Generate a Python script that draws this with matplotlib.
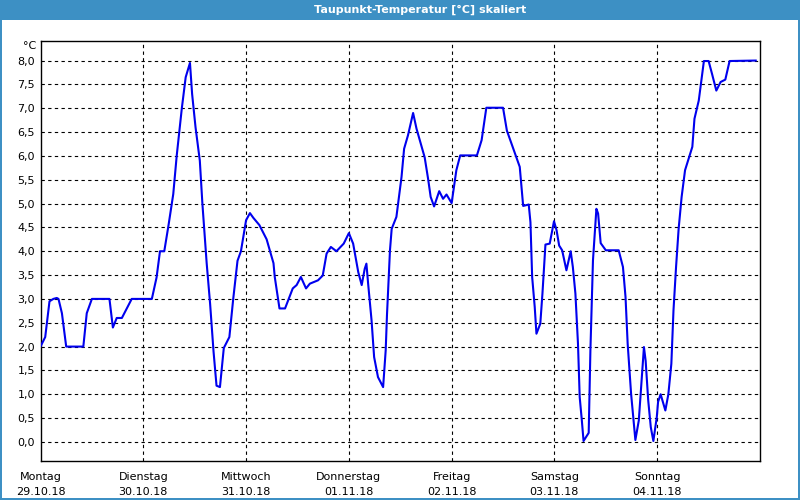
import matplotlib

matplotlib.use("Agg")
import matplotlib.pyplot as plt
from matplotlib.patches import Rectangle

# Hours since Monday 00:00 and dew point in degC
hours = [
    0, 1.1, 2.1, 3.0, 3.8, 4.2, 5.0, 6.0, 10.0, 10.8, 12.0, 16.1, 16.9, 17.8, 19.0,
    21.3, 26.0, 27.1, 27.9, 28.9, 29.9, 31.0, 31.8, 33.0, 33.9, 34.9, 35.4, 36.2,
    37.2, 37.8, 38.8, 39.6, 40.4, 41.1, 41.9, 42.8, 44.1, 45.0, 46.0, 46.8, 48.0,
    48.9, 49.7, 51.1, 52.8, 54.4, 54.7, 55.8, 57.1, 58.9, 59.8, 60.8, 62.0, 62.9,
    64.8, 65.9, 66.8, 67.8, 69.1, 70.8, 72.0, 73.0, 74.2, 75.0, 75.7, 76.1, 76.5,
    77.3, 77.9, 78.8, 80.0, 80.6, 80.9, 81.6, 82.0, 83.1, 83.5, 84.3, 84.9, 85.8,
    87.0, 87.8, 89.7, 90.5, 91.1, 91.9, 93.1, 94.0, 94.8, 96.0, 97.1, 98.0, 101.9,
    103.0, 104.1, 108.0, 108.9, 111.1, 111.9, 112.7, 114.0, 114.4, 114.8, 115.4,
    115.8, 116.7, 117.2, 117.9, 118.9, 119.9, 120.5, 121.1, 121.8, 122.8, 123.8,
    124.3, 124.9, 125.5, 125.9, 126.4, 126.8, 128.0, 128.4, 129.0, 129.8, 130.2,
    130.8, 132.0, 135.0, 136.0, 136.6, 137.1, 137.9, 138.9, 139.7, 140.4, 140.9,
    141.3, 141.9, 142.5, 143.1, 143.9, 144.2, 144.8, 145.9, 146.6, 147.3, 147.8,
    148.4, 149.0, 149.7, 150.5, 151.5, 152.2, 152.7, 153.7, 154.5, 154.9, 156.0,
    156.8, 157.8, 158.8, 159.9, 160.9, 167.0,
]
dewpoint = [
    2.0, 2.2, 2.95, 3.0, 3.02, 3.0, 2.7, 2.0, 2.0, 2.7, 3.0, 3.0, 2.4, 2.6, 2.6,
    3.0, 3.0, 3.45, 4.0, 4.0, 4.55, 5.2, 6.0, 7.0, 7.65, 7.95, 7.3, 6.6,
    5.9, 5.0, 3.75, 2.9, 1.9, 1.18, 1.15, 1.97, 2.2, 3.0, 3.8, 4.0, 4.65,
    4.8, 4.7, 4.55, 4.25, 3.75, 3.46, 2.8, 2.8, 3.22, 3.29, 3.46, 3.22, 3.32,
    3.39, 3.49, 3.95, 4.09, 4.0, 4.16, 4.38, 4.16, 3.56, 3.29, 3.63, 3.74, 3.32,
    2.55, 1.78, 1.36, 1.15, 1.92, 2.66, 4.02, 4.47, 4.72, 5.0, 5.56, 6.15, 6.43,
    6.9, 6.57, 5.97, 5.52, 5.14, 4.94, 5.26, 5.1, 5.19, 5.01, 5.7, 6.01, 6.01,
    6.33, 7.01, 7.01, 6.53, 5.97, 5.77, 4.95, 4.98, 4.61, 3.46, 2.83,
    2.27, 2.48, 3.11, 4.14, 4.16, 4.63, 4.44, 4.12, 4.02, 3.6, 4.0,
    3.67, 3.11, 2.06, 0.94, 0.45, 0.02, 0.19, 1.92, 3.81, 4.89, 4.79,
    4.17, 4.02, 4.02, 3.67, 3.04, 2.06, 1.01, 0.04, 0.45, 1.36, 1.99,
    1.7, 0.87, 0.31, 0.02, 0.52, 0.84, 1.0, 0.66, 1.0, 1.64, 2.76,
    3.67, 4.47, 5.14, 5.7, 5.99, 6.19, 6.78, 7.16, 7.72, 7.99, 7.99,
    7.72, 7.37, 7.55, 7.6, 7.99, 8.0,
]

day_names = ["Montag", "Dienstag", "Mittwoch", "Donnerstag", "Freitag", "Samstag", "Sonntag"]
day_dates = ["29.10.18", "30.10.18", "31.10.18", "01.11.18", "02.11.18", "03.11.18", "04.11.18"]
y_ticks = [i * 0.5 for i in range(17)]

FRAME_BLUE = "#3d90c4"

fig = plt.figure(figsize=(8, 5), dpi=100)

# window chrome: title bar and thin blue frame
fig.patches.append(Rectangle((0, 1 - 20 / 500), 1, 20 / 500, transform=fig.transFigure,
                             facecolor=FRAME_BLUE, edgecolor="none", zorder=0))
for rect in [(0, 0, 2 / 800, 1), (1 - 2 / 800, 0, 2 / 800, 1), (0, 0, 1, 2 / 500)]:
    fig.patches.append(Rectangle(rect[:2], rect[2], rect[3], transform=fig.transFigure,
                                 facecolor=FRAME_BLUE, edgecolor="none", zorder=0))
fig.text(420 / 800, 1 - 10 / 500, "Taupunkt-Temperatur [°C] skaliert", color="white",
         fontsize=8, fontweight="bold", ha="center", va="center")

ax = fig.add_axes([40.5 / 800, 1 - 461 / 500, 719.5 / 800, 420 / 500])
ax.plot(hours, dewpoint, color="#0000ee", linewidth=1.5, zorder=3)

ax.set_xlim(0, 168)
ax.set_ylim(-0.40, 8.41)

ax.set_yticks(y_ticks)
ax.set_yticklabels([f"{v:.1f}".replace(".", ",") for v in y_ticks], fontsize=8)
ax.set_xticks([24 * i for i in range(7)])
ax.set_xticklabels([f"{n}\n{d}" for n, d in zip(day_names, day_dates)], fontsize=8,
                   linespacing=1.6)
ax.tick_params(axis="both", length=0, colors="black")
ax.tick_params(axis="y", pad=4)
ax.tick_params(axis="x", pad=8)

for y in y_ticks:
    ax.axhline(y, color="black", linewidth=0.8, linestyle=(0, (3, 3)), zorder=1)
for d in range(1, 7):
    ax.axvline(24 * d, color="black", linewidth=0.8, linestyle=(0, (3, 3)), zorder=1)

for spine in ax.spines.values():
    spine.set_linewidth(1.0)
    spine.set_color("black")

fig.text(30 / 800, 1 - 46 / 500, "°C", fontsize=8, ha="center", va="center")

fig.savefig("out.png", dpi=100)
